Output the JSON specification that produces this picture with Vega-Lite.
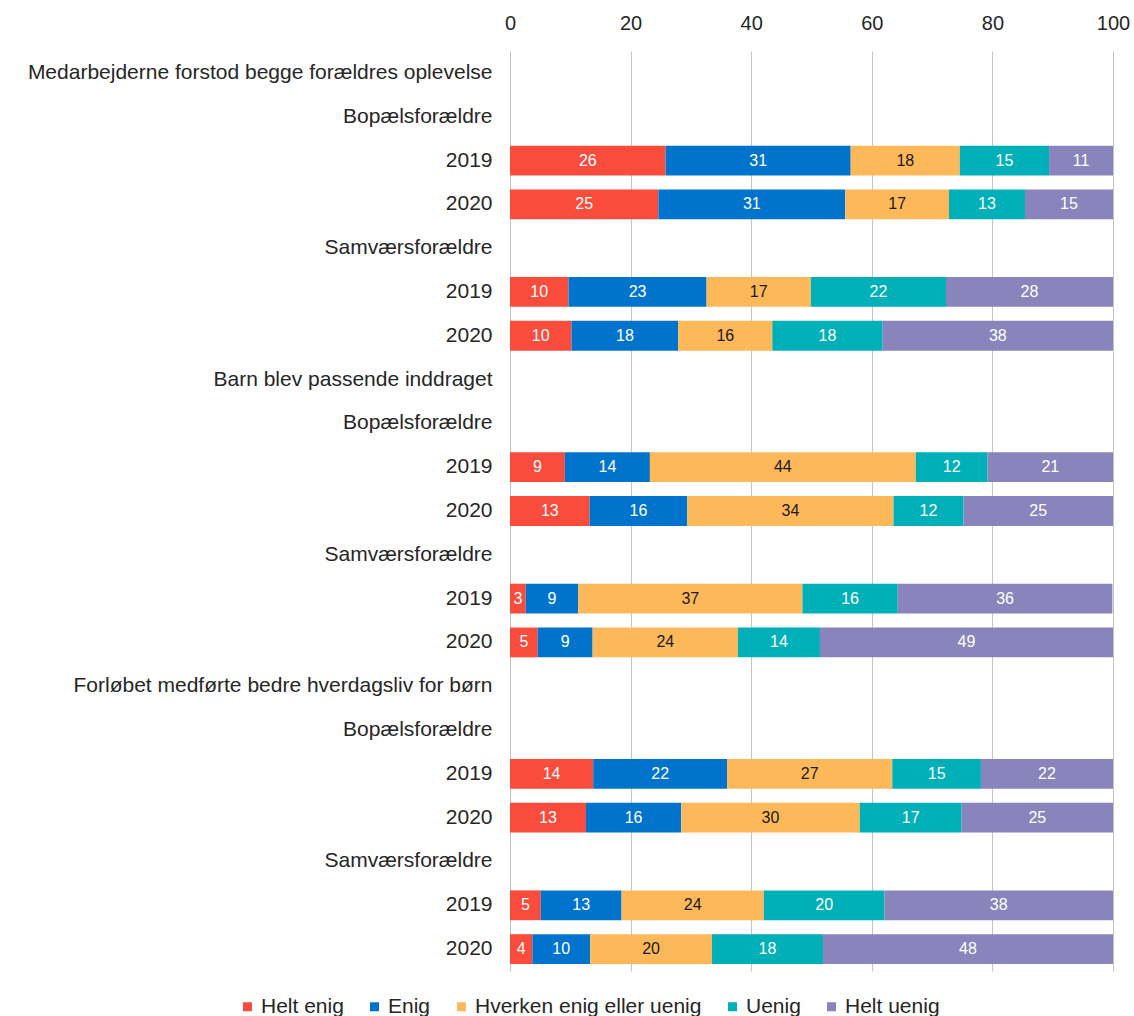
{
  "$schema": "https://vega.github.io/schema/vega-lite/v6.json",
  "autosize": {"type": "none"},
  "width": 603,
  "height": 920,
  "padding": {"left": 510, "top": 51, "right": 21, "bottom": 45},
  "background": "white",
  "config": {"view": {"stroke": null}, "font": "Liberation Sans"},
  "data": {
    "values": [
      {"row": "03|2019", "cat": "Helt enig", "k": 1, "value": 25.8},
      {"row": "03|2019", "cat": "Enig", "k": 2, "value": 30.7},
      {"row": "03|2019", "cat": "Hverken enig eller uenig", "k": 3, "value": 18.1},
      {"row": "03|2019", "cat": "Uenig", "k": 4, "value": 14.8},
      {"row": "03|2019", "cat": "Helt uenig", "k": 5, "value": 10.6},
      {"row": "04|2020", "cat": "Helt enig", "k": 1, "value": 24.6},
      {"row": "04|2020", "cat": "Enig", "k": 2, "value": 31.0},
      {"row": "04|2020", "cat": "Hverken enig eller uenig", "k": 3, "value": 17.2},
      {"row": "04|2020", "cat": "Uenig", "k": 4, "value": 12.6},
      {"row": "04|2020", "cat": "Helt uenig", "k": 5, "value": 14.6},
      {"row": "06|2019", "cat": "Helt enig", "k": 1, "value": 9.7},
      {"row": "06|2019", "cat": "Enig", "k": 2, "value": 22.9},
      {"row": "06|2019", "cat": "Hverken enig eller uenig", "k": 3, "value": 17.3},
      {"row": "06|2019", "cat": "Uenig", "k": 4, "value": 22.4},
      {"row": "06|2019", "cat": "Helt uenig", "k": 5, "value": 27.7},
      {"row": "07|2020", "cat": "Helt enig", "k": 1, "value": 10.2},
      {"row": "07|2020", "cat": "Enig", "k": 2, "value": 17.7},
      {"row": "07|2020", "cat": "Hverken enig eller uenig", "k": 3, "value": 15.6},
      {"row": "07|2020", "cat": "Uenig", "k": 4, "value": 18.3},
      {"row": "07|2020", "cat": "Helt uenig", "k": 5, "value": 38.2},
      {"row": "10|2019", "cat": "Helt enig", "k": 1, "value": 9.1},
      {"row": "10|2019", "cat": "Enig", "k": 2, "value": 14.1},
      {"row": "10|2019", "cat": "Hverken enig eller uenig", "k": 3, "value": 44.1},
      {"row": "10|2019", "cat": "Uenig", "k": 4, "value": 11.9},
      {"row": "10|2019", "cat": "Helt uenig", "k": 5, "value": 20.8},
      {"row": "11|2020", "cat": "Helt enig", "k": 1, "value": 13.2},
      {"row": "11|2020", "cat": "Enig", "k": 2, "value": 16.2},
      {"row": "11|2020", "cat": "Hverken enig eller uenig", "k": 3, "value": 34.2},
      {"row": "11|2020", "cat": "Uenig", "k": 4, "value": 11.6},
      {"row": "11|2020", "cat": "Helt uenig", "k": 5, "value": 24.8},
      {"row": "13|2019", "cat": "Helt enig", "k": 1, "value": 2.6},
      {"row": "13|2019", "cat": "Enig", "k": 2, "value": 8.7},
      {"row": "13|2019", "cat": "Hverken enig eller uenig", "k": 3, "value": 37.2},
      {"row": "13|2019", "cat": "Uenig", "k": 4, "value": 15.8},
      {"row": "13|2019", "cat": "Helt uenig", "k": 5, "value": 35.6},
      {"row": "14|2020", "cat": "Helt enig", "k": 1, "value": 4.6},
      {"row": "14|2020", "cat": "Enig", "k": 2, "value": 9.1},
      {"row": "14|2020", "cat": "Hverken enig eller uenig", "k": 3, "value": 24.1},
      {"row": "14|2020", "cat": "Uenig", "k": 4, "value": 13.6},
      {"row": "14|2020", "cat": "Helt uenig", "k": 5, "value": 48.6},
      {"row": "17|2019", "cat": "Helt enig", "k": 1, "value": 13.8},
      {"row": "17|2019", "cat": "Enig", "k": 2, "value": 22.2},
      {"row": "17|2019", "cat": "Hverken enig eller uenig", "k": 3, "value": 27.4},
      {"row": "17|2019", "cat": "Uenig", "k": 4, "value": 14.7},
      {"row": "17|2019", "cat": "Helt uenig", "k": 5, "value": 21.9},
      {"row": "18|2020", "cat": "Helt enig", "k": 1, "value": 12.6},
      {"row": "18|2020", "cat": "Enig", "k": 2, "value": 15.8},
      {"row": "18|2020", "cat": "Hverken enig eller uenig", "k": 3, "value": 29.6},
      {"row": "18|2020", "cat": "Uenig", "k": 4, "value": 16.9},
      {"row": "18|2020", "cat": "Helt uenig", "k": 5, "value": 25.1},
      {"row": "20|2019", "cat": "Helt enig", "k": 1, "value": 5.1},
      {"row": "20|2019", "cat": "Enig", "k": 2, "value": 13.4},
      {"row": "20|2019", "cat": "Hverken enig eller uenig", "k": 3, "value": 23.6},
      {"row": "20|2019", "cat": "Uenig", "k": 4, "value": 20.0},
      {"row": "20|2019", "cat": "Helt uenig", "k": 5, "value": 37.9},
      {"row": "21|2020", "cat": "Helt enig", "k": 1, "value": 3.7},
      {"row": "21|2020", "cat": "Enig", "k": 2, "value": 9.6},
      {"row": "21|2020", "cat": "Hverken enig eller uenig", "k": 3, "value": 20.2},
      {"row": "21|2020", "cat": "Uenig", "k": 4, "value": 18.4},
      {"row": "21|2020", "cat": "Helt uenig", "k": 5, "value": 48.1}
    ]
  },
  "encoding": {
    "y": {
      "field": "row",
      "type": "nominal",
      "scale": {
        "domain": [
          "01|Medarbejderne forstod begge forældres oplevelse",
          "02|Bopælsforældre",
          "03|2019",
          "04|2020",
          "05|Samværsforældre",
          "06|2019",
          "07|2020",
          "08|Barn blev passende inddraget",
          "09|Bopælsforældre",
          "10|2019",
          "11|2020",
          "12|Samværsforældre",
          "13|2019",
          "14|2020",
          "15|Forløbet medførte bedre hverdagsliv for børn",
          "16|Bopælsforældre",
          "17|2019",
          "18|2020",
          "19|Samværsforældre",
          "20|2019",
          "21|2020"
        ],
        "paddingInner": 0.32,
        "paddingOuter": 0.16
      },
      "axis": {
        "title": null,
        "domain": false,
        "ticks": false,
        "tickSize": 0,
        "grid": false,
        "labelPadding": 18,
        "labelFontSize": 21,
        "labelColor": "#262626",
        "labelLimit": 600,
        "labelExpr": "split(datum.value, '|')[1]"
      }
    }
  },
  "layer": [
    {
      "mark": {"type": "bar"},
      "encoding": {
        "x": {
          "field": "value",
          "type": "quantitative",
          "stack": "zero",
          "scale": {"domain": [0, 100], "nice": false},
          "axis": {
            "orient": "top",
            "title": null,
            "values": [0, 20, 40, 60, 80, 100],
            "grid": true,
            "gridColor": "#c4c4c4",
            "gridWidth": 1,
            "domain": false,
            "ticks": false,
            "tickSize": 0,
            "labelPadding": 18,
            "labelFontSize": 20,
            "labelColor": "#262626",
            "labelFlush": false
          }
        },
        "color": {
          "field": "cat",
          "type": "nominal",
          "scale": {
            "domain": ["Helt enig", "Enig", "Hverken enig eller uenig", "Uenig", "Helt uenig"],
            "range": ["#f94c3c", "#0074cd", "#fdb85a", "#00b0b9", "#8a84bc"]
          },
          "legend": {
            "orient": "none",
            "legendX": -273,
            "legendY": 945,
            "direction": "horizontal",
            "title": null,
            "symbolType": "square",
            "symbolSize": 81,
            "symbolStrokeWidth": 0,
            "labelFontSize": 21,
            "labelOffset": 3,
            "labelLimit": 400,
            "labelColor": "#262626",
            "columnPadding": 20,
            "padding": 0
          }
        },
        "order": {"field": "k", "type": "quantitative"}
      }
    },
    {
      "mark": {"type": "text", "fontSize": 16},
      "encoding": {
        "x": {"field": "value", "type": "quantitative", "stack": "zero", "bandPosition": 0.5},
        "text": {"field": "value", "type": "quantitative", "format": ".0f"},
        "color": {"condition": {"test": "datum.k === 3", "value": "#1a1a1a"}, "value": "#ffffff"},
        "order": {"field": "k", "type": "quantitative"}
      }
    }
  ]
}
